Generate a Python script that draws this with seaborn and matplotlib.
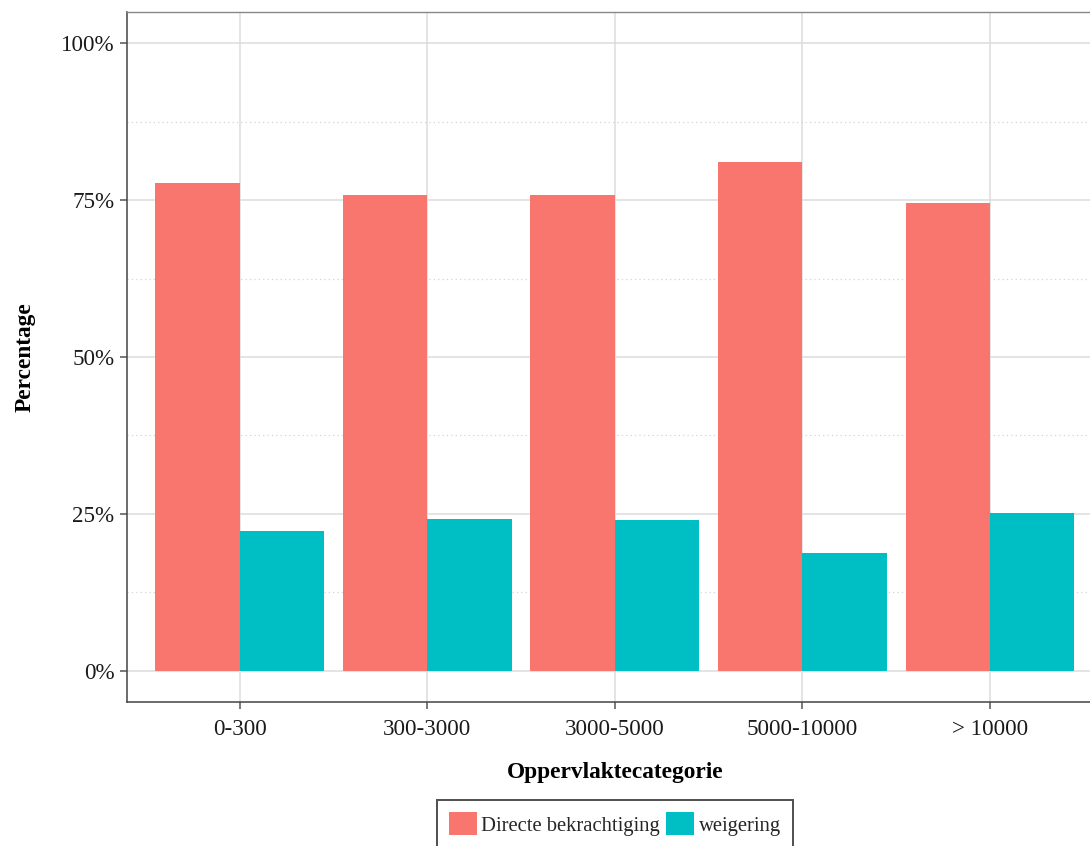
import matplotlib
matplotlib.use("Agg")
import matplotlib.pyplot as plt
import seaborn as sns
import pandas as pd
from matplotlib.ticker import FixedLocator, FuncFormatter

categories = ["0-300", "300-3000", "3000-5000", "5000-10000", "> 10000"]
series_names = ["Directe bekrachtiging", "weigering"]
directe = [77.8, 75.9, 75.9, 81.1, 74.6]
weigering = [22.2, 24.1, 24.0, 18.8, 25.2]
y_ticks = [0, 25, 50, 75, 100]
y_minor = [12.5, 37.5, 62.5, 87.5]
colors = ["#F8766D", "#00BFC4"]

df = pd.DataFrame({
    "cat": categories * 2,
    "serie": [series_names[0]] * len(categories) + [series_names[1]] * len(categories),
    "pct": directe + weigering,
})

sns.set_theme(style="white")
plt.rcParams["font.family"] = ["Liberation Serif", "DejaVu Serif"]

W, H = 1090, 846
fig = plt.figure(figsize=(W / 100, H / 100), dpi=100)
left, right, top, bottom = 127, 1102.6, 12, 702
ax = fig.add_axes([left / W, 1 - bottom / H, (right - left) / W, (bottom - top) / H])

sns.barplot(data=df, x="cat", y="pct", hue="serie", order=categories,
            hue_order=series_names, palette=colors, width=0.9, gap=0,
            saturation=1, ax=ax, zorder=3, linewidth=0)

ax.set_xlim(-0.6, 4.6)
ax.set_ylim(-5, 105)
ax.yaxis.set_major_locator(FixedLocator(y_ticks))
ax.yaxis.set_minor_locator(FixedLocator(y_minor))
ax.yaxis.set_major_formatter(FuncFormatter(lambda v, p: f"{int(v)}%"))

ax.grid(True, which="major", axis="both", color="#DCDCDC", linewidth=1.1, zorder=0)
ax.grid(True, which="minor", axis="y", color="#D4D4D4", linewidth=0.9,
        linestyle=(0, (1, 2.5)), zorder=0)
ax.set_axisbelow(True)

for s in ["left", "bottom"]:
    ax.spines[s].set_color("#444444")
    ax.spines[s].set_linewidth(1.1)
ax.spines["top"].set_color("#888888")
ax.spines["top"].set_linewidth(1.0)
ax.spines["right"].set_visible(False)

ax.tick_params(axis="both", which="major", length=5, width=1.1, color="#555555",
               labelsize=16.6, labelcolor="#1a1a1a", pad=4, direction="out",
               bottom=True, left=True)
ax.tick_params(axis="x", which="major", pad=7)
ax.tick_params(axis="y", which="minor", length=0)

ax.set_xlabel("Oppervlaktecategorie", fontsize=16.8, fontweight="bold", labelpad=16,
              color="black")
ax.set_ylabel("Percentage", fontsize=16.8, fontweight="bold", labelpad=18, color="black")

handles, labels = ax.get_legend_handles_labels()
ax.get_legend().remove()
leg = fig.legend(handles, labels, loc="upper center",
                 bbox_to_anchor=(((left + right) / 2) / W, 1 - 800 / H),
                 ncol=2, fontsize=14.9, frameon=True, fancybox=False,
                 handlelength=1.36, handleheight=1.31, handletextpad=0.2,
                 columnspacing=0.3, borderpad=0.6, borderaxespad=0)
leg.get_frame().set_edgecolor("#222222")
leg.get_frame().set_linewidth(1.4)

fig.savefig("out.png", dpi=100)
